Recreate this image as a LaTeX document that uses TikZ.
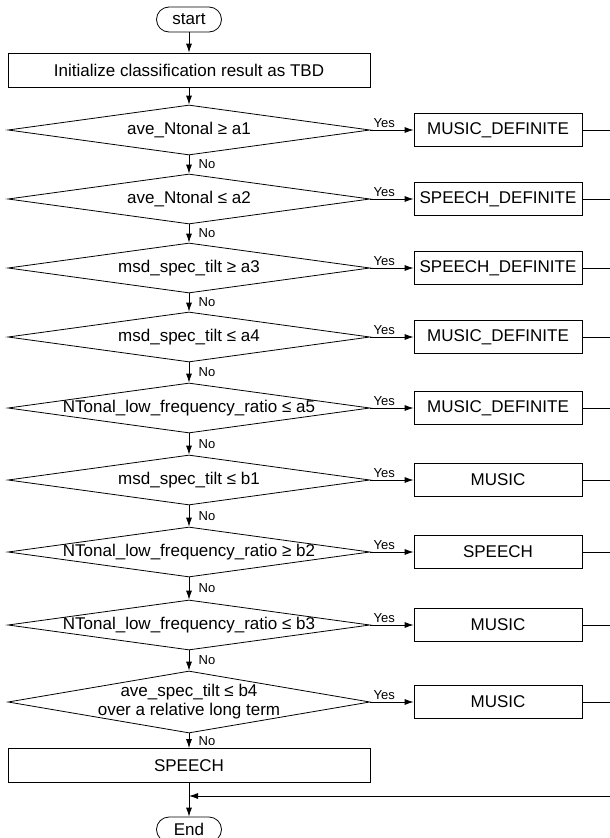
\documentclass[tikz,border=0pt]{standalone}
\usepackage{fontspec}
\setmainfont{Liberation Sans}
\usetikzlibrary{arrows.meta,shapes.geometric}

\begin{document}
\begin{tikzpicture}[x=1pt, y=-1pt, line width=0.8pt,
  every node/.style={font=\fontsize{17}{19}\selectfont},
  term/.style={draw, rounded corners=12.5pt, minimum width=65pt, minimum height=25pt, inner sep=0pt},
  proc/.style={draw, minimum width=362pt, minimum height=34pt, inner sep=0pt},
  dec/.style={draw, diamond, minimum width=362pt, minimum height=50pt, inner sep=0pt},
  res/.style={draw, minimum width=168pt, minimum height=33pt, inner sep=0pt},
  flow/.style={-{Latex[length=9pt,width=6pt]}},
  small/.style={font=\fontsize{13}{15}\selectfont}]
\useasboundingbox (0,0) rectangle (610,838);

\node[term] (start) at (189,19.5) {start};
\node[proc] (init) at (189,70) {Initialize classification result as TBD};
\draw[flow] (start) -- (init);

% tests with their results on the right
\foreach \i/\y/\cond/\res in {
  1/130/ave\_Ntonal ≥ a1/MUSIC\_DEFINITE,
  2/199/ave\_Ntonal ≤ a2/SPEECH\_DEFINITE,
  3/268/msd\_spec\_tilt ≥ a3/SPEECH\_DEFINITE,
  4/337/msd\_spec\_tilt ≤ a4/MUSIC\_DEFINITE,
  5/408/NTonal\_low\_frequency\_ratio ≤ a5/MUSIC\_DEFINITE,
  6/480/msd\_spec\_tilt ≤ b1/MUSIC,
  7/552/NTonal\_low\_frequency\_ratio ≥ b2/SPEECH,
  8/625/NTonal\_low\_frequency\_ratio ≤ b3/MUSIC}{
  \node[dec, label=center:{\cond}] (d\i) at (189,\y) {};
  \node[res] (r\i) at (498,\y) {\res};
  \coordinate (o\i) at (610,\y);
}
\node[dec, minimum height=62pt,
  label={[align=center]center:{ave\_spec\_tilt ≤ b4\\over a relative long term}}] (d9) at (189,702) {};
\node[res] (r9) at (498,702) {MUSIC};
\coordinate (o9) at (610,702);

\node[proc] (speech) at (189,765.5) {SPEECH};
\node[term] (end) at (189,829.5) {End};

\draw[flow] (init) -- (d1);
\foreach \i/\j in {1/2,2/3,3/4,4/5,5/6,6/7,7/8,8/9}
  \draw[flow] (d\i.south) -- node[small, right, xshift=6pt]{No} (d\j.north);
\draw[flow] (d9.south) -- node[small, right, xshift=6pt]{No} (speech.north);

\foreach \i in {1,...,9}{
  \draw[flow] (d\i.east) -- node[small, above, pos=0.32, inner sep=1.5pt]{Yes} (r\i.west);
  \draw (r\i.east) -- (o\i);
}

% all results join before the end
\coordinate (back) at (610,796);
\coordinate (join) at (speech.south |- back);
\draw[flow] (back) -- (join);
\draw[flow] (speech.south) -- (end.north);
\end{tikzpicture}
\end{document}
